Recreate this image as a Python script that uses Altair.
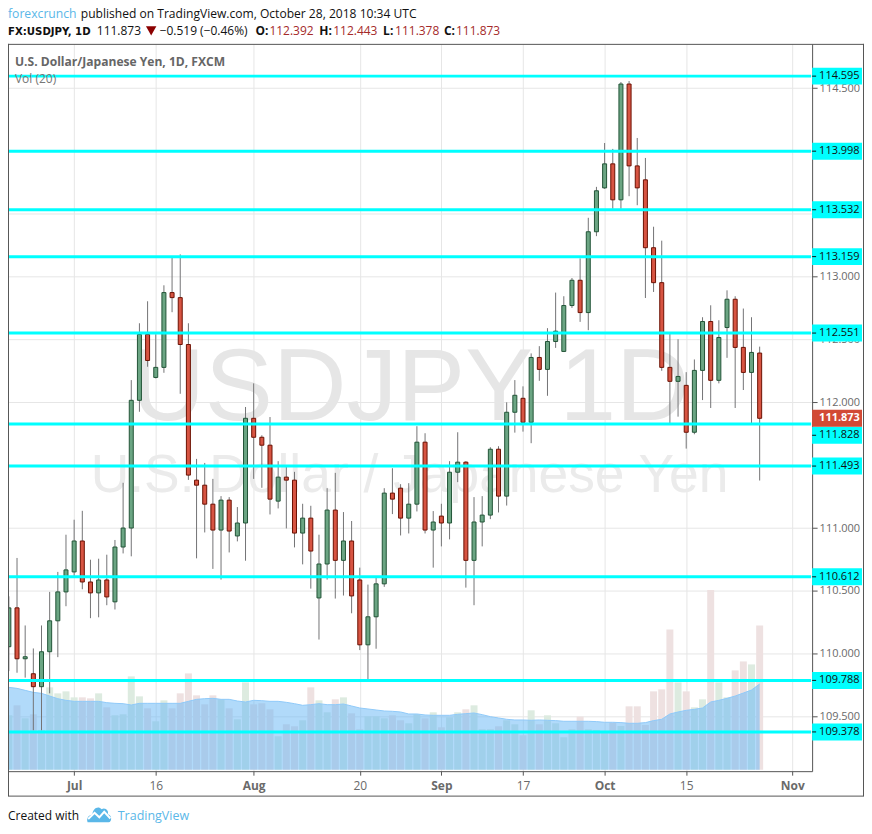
import altair as alt
import pandas as pd

opens = [110.056,110.365,109.960,109.841,109.738,110.016,110.262,110.492,110.651,110.897,110.571,110.484,110.587,110.413,110.849,111.000,112.016,112.540,112.198,112.278,112.873,112.833,112.460,111.381,111.341,111.190,110.984,111.222,110.937,111.040,111.873,111.722,111.659,111.214,111.405,111.381,110.960,111.079,110.444,110.714,111.143,110.743,110.897,110.587,110.071,110.294,110.556,111.278,111.317,111.079,111.190,111.683,110.984,111.095,111.040,111.444,111.524,110.743,111.048,111.103,111.627,111.254,111.921,112.032,111.841,112.357,112.262,112.484,112.405,112.770,112.971,112.714,113.357,113.706,113.897,113.611,114.532,113.881,113.770,113.230,112.952,112.278,112.167,112.135,111.762,112.254,112.643,112.175,112.595,112.820,112.437,112.238,112.392]
closes = [110.365,109.960,109.976,109.738,110.016,110.262,110.492,110.667,110.897,110.571,110.484,110.587,110.452,110.849,111.000,112.016,112.540,112.333,112.278,112.873,112.833,112.460,111.421,111.341,111.190,110.984,111.222,110.976,111.040,111.873,111.722,111.659,111.230,111.405,111.381,110.960,111.079,110.817,110.714,111.143,110.743,110.897,110.460,110.071,110.294,110.556,111.278,111.230,111.079,111.190,111.683,110.984,111.048,111.040,111.444,111.524,110.743,111.048,111.103,111.627,111.254,111.921,112.056,111.841,112.357,112.262,112.484,112.566,112.770,112.971,112.714,113.357,113.683,113.897,113.611,114.532,113.881,113.706,113.230,112.952,112.278,112.167,112.206,111.762,112.254,112.643,112.175,112.516,112.820,112.437,112.238,112.397,111.873]
highs = [110.457,110.762,110.225,110.042,110.225,110.492,110.651,110.947,111.066,111.137,110.748,110.756,110.788,110.905,111.360,112.177,112.629,112.804,112.542,112.931,113.156,113.177,112.629,111.550,111.518,111.391,111.254,111.246,111.167,111.963,112.151,111.738,111.883,111.532,111.487,111.447,111.193,111.177,110.947,111.317,111.439,111.127,111.056,110.685,110.550,110.606,111.317,111.476,111.349,111.357,111.810,111.754,111.135,111.193,111.532,111.762,111.532,111.246,111.254,111.643,111.651,112.000,112.177,112.127,112.389,112.447,112.590,112.873,112.844,112.989,113.145,113.468,113.714,114.063,114.016,114.548,114.556,114.103,113.944,113.397,113.286,112.558,112.502,112.240,112.341,112.677,112.772,112.653,112.891,112.844,112.746,112.677,112.443]
lows = [109.862,109.849,109.810,109.391,109.391,109.685,109.973,110.378,110.606,110.513,110.283,110.290,110.386,110.352,110.798,110.775,111.925,112.283,112.190,112.235,112.717,112.068,111.383,110.759,110.965,110.675,110.590,110.806,110.894,110.740,111.391,111.320,111.108,111.156,110.997,110.846,110.711,110.518,110.113,110.590,110.439,110.463,110.322,110.029,109.796,110.040,110.532,111.111,110.941,110.957,111.132,110.957,110.685,110.854,110.910,111.365,110.526,110.386,110.854,111.071,111.124,111.179,111.759,111.767,111.675,112.171,112.052,112.433,112.400,112.751,112.640,112.574,113.322,113.698,113.540,113.540,113.640,113.568,112.830,112.878,112.251,111.833,111.886,111.632,111.746,112.018,111.955,112.151,112.354,111.955,112.098,111.833,111.378]
volumes = [164,194,155,167,120,248,230,236,218,218,215,230,188,164,167,281,221,185,146,209,185,230,290,224,197,224,212,185,152,263,197,200,182,101,137,131,149,248,209,173,212,218,170,122,161,161,155,164,149,140,167,155,173,128,158,173,182,194,122,122,131,149,137,104,179,137,164,140,98,122,160,122,120,117,142,132,191,191,135,236,242,422,263,236,188,212,541,263,218,299,326,317,434]
vol_ma = [248,245,239,233,230,222,214,209,206,206,206,206,202,200,199,195,200,200,200,200,200,200,206,212,214,215,212,212,207,204,209,208,206,206,203,199,194,196,199,196,196,198,192,186,183,180,177,176,174,168,168,165,164,164,164,167,169,171,166,160,156,152,150,150,149,150,149,148,146,146,146,146,145,143,143,142,140,140,142,148,152,168,174,179,182,186,204,209,215,222,231,240,258]
day_index = list(range(-8, 85))

levels = [114.595,113.998,113.532,113.159,112.551,111.828,111.493,110.612,109.788,109.378]
level_label_at = [114.595,113.998,113.532,113.159,112.551,111.738,111.493,110.612,109.788,109.378]
level_text = ["114.595","113.998","113.532","113.159","112.551","111.828","111.493","110.612","109.788","109.378"]
last_price = 111.873

y_ticks = [109.5,110.0,110.5,111.0,111.5,112.0,112.5,113.0,113.5,114.0,114.5]
x_ticks = [0,10,22,35,45,55,65,75,88]
x_tick_labels = ["Jul","16","Aug","20","Sep","17","Oct","15","Nov"]
month_ticks = [0,22,45,65,88]

FONT = "Open Sans"
OX, OY = 8, 43
W, H = 806, 729
PRICE_DOM = [109.0659, 114.8516]
VOL_DOM = [-4, 2183]
X_DOM = [-8.105, 90.428]
GRID = "#e6e6e6"
FRAME = "#555555"
AXT = "#6a6a6a"
BLUE = "#5ab7e8"
DRED = "#a52a2a"
CYAN = "#00ffff"

df = pd.DataFrame(dict(i=day_index, open=opens, close=closes, high=highs, low=lows, vol=volumes, ma=vol_ma))
ONE = alt.Data(values=[{"a": 1}])
up = "datum.close > datum.open"

px = alt.Scale(domain=PRICE_DOM, range=[H, 0], nice=False, zero=False)
vs = alt.Scale(domain=VOL_DOM, range=[H, 0], nice=False, zero=False)
xs = alt.Scale(domain=X_DOM, nice=False, zero=False, padding=0)
xe = alt.X("i:Q", scale=xs, axis=None)

labmap = "{" + ",".join(f"'{v}':'{t}'" for v, t in zip(x_ticks, x_tick_labels)) + "}"
xaxis = alt.Axis(values=x_ticks, labelExpr=f"{labmap}[datum.value]", title=None, grid=True, gridColor=GRID,
                 domainColor=FRAME, tickColor=FRAME, tickSize=4, labelColor=AXT, labelFont=FONT, labelFontSize=12,
                 labelPadding=5, labelFlush=False, labelOverlap=False,
                 labelFontWeight=alt.expr(f"indexof({month_ticks}, datum.value) >= 0 ? 'bold' : 'normal'"))
yaxis = alt.Axis(values=y_ticks, orient="right", format=".3f", title=None, grid=True, gridColor=GRID,
                 domainColor=FRAME, tickColor=FRAME, tickSize=5, labelColor=AXT, labelFont=FONT, labelFontSize=11,
                 labelPadding=2, labelOverlap=False)


def txt(s, x, y, size=12, color="#111111", weight="normal", align="left", font=FONT):
    return alt.Chart(ONE).mark_text(text=s, align=align, baseline="alphabetic", font=font, fontSize=size,
                                    color=color, fontWeight=weight).encode(x=alt.value(x - OX), y=alt.value(y - OY))


def hline(x1, x2, y, color=FRAME):
    return alt.Chart(ONE).mark_rule(color=color, strokeWidth=1).encode(
        x=alt.value(x1 - OX), x2=alt.value(x2 - OX), y=alt.value(y - OY))


def vline(x, y1, y2, color=FRAME):
    return alt.Chart(ONE).mark_rule(color=color, strokeWidth=1).encode(
        x=alt.value(x - OX), y=alt.value(y1 - OY), y2=alt.value(y2 - OY))


base = alt.Chart(df)
layers = [
    txt("USDJPY 1D", 411.5, 420, size=102, color="#e6e6e6", align="center", font="Liberation Sans"),
    txt("U.S. Dollar / Japanese Yen", 410.5, 492, size=53.5, color="#ebebeb", align="center", font="Liberation Sans"),
    base.mark_bar(size=7, clip=True).encode(
        x=xe, y=alt.Y("vol:Q", scale=vs, axis=None),
        color=alt.condition(up, alt.value("#ddebe0"), alt.value("#eee1e1"))),
    base.mark_area(clip=True, color="#64b5f6", opacity=0.5, line={"color": "#90caf9", "strokeWidth": 1, "opacity": 1}).encode(
        x=xe, y=alt.Y("ma:Q", scale=vs, axis=None)),
    base.mark_rule(color="#737375", strokeWidth=1, clip=True).encode(
        x=alt.X("i:Q", scale=xs, axis=xaxis),
        y=alt.Y("high:Q", scale=px, axis=yaxis), y2="low:Q"),
    base.mark_bar(size=4, strokeWidth=1, clip=True).encode(
        x=xe, y=alt.Y("open:Q", scale=px, axis=None), y2="close:Q",
        color=alt.condition(up, alt.value("#6ba583"), alt.value("#d75442")),
        stroke=alt.condition(up, alt.value("#225437"), alt.value("#6b1103"))),
]

lev = alt.Chart(pd.DataFrame(dict(p=levels, at=level_label_at, t=level_text)))
layers += [
    lev.mark_rule(color=CYAN, strokeWidth=3).encode(
        x=alt.value(0), x2=alt.value(813 - OX), y=alt.Y("p:Q", scale=px, axis=None)),
    lev.mark_rule(color=CYAN, strokeWidth=17).encode(
        x=alt.value(814 - OX), x2=alt.value(864 - OX), y=alt.Y("at:Q", scale=px, axis=None)),
    lev.mark_rule(color="#111111", strokeWidth=1).encode(
        x=alt.value(814 - OX), x2=alt.value(818 - OX), y=alt.Y("at:Q", scale=px, axis=None)),
    lev.mark_text(align="left", baseline="middle", font=FONT, fontSize=11, color="#111111").encode(
        x=alt.value(821 - OX), y=alt.Y("at:Q", scale=px, axis=None), text="t:N"),
]
lastp = alt.Chart(pd.DataFrame(dict(p=[last_price], t=[f"{last_price:.3f}"])))
layers += [
    lastp.mark_rule(color="#d24a35", strokeWidth=17).encode(
        x=alt.value(814 - OX), x2=alt.value(864 - OX), y=alt.Y("p:Q", scale=px, axis=None)),
    lastp.mark_text(align="left", baseline="middle", font=FONT, fontSize=11, fontWeight="bold", color="white").encode(
        x=alt.value(821 - OX), y=alt.Y("p:Q", scale=px, axis=None), text="t:N"),
]

layers += [
    vline(8.5, 43, 797), vline(865.5, 43, 797), hline(8, 866, 43.5), hline(8, 866, 797),
    txt("U.S. Dollar/Japanese Yen, 1D, FXCM", 15, 65, size=12.1, color="#666666", weight="bold"),
    txt("Vol (20)", 15, 82, size=12, color="#777777"),
    txt("forexcrunch", 8, 17, size=12.2, color=BLUE),
    txt("published on TradingView.com, October 28, 2018 10:34 UTC", 81, 17, size=12.1),
    txt("FX:USDJPY, 1D", 8, 34, size=10.2, weight="bold", font="DejaVu Sans"),
    txt("111.873", 97, 34, size=12),
    alt.Chart(ONE).mark_point(shape="triangle-down", filled=True, color="#8b0000", opacity=1, size=110).encode(
        x=alt.value(151.5 - OX), y=alt.value(30 - OY)),
    txt("\u22120.519 (\u22120.46%)", 160, 34, size=12),
    txt("O:", 256, 34, size=12, weight="bold"),
    txt("112.392", 270, 34, size=12, color=DRED),
    txt("H:", 320, 34, size=12, weight="bold"),
    txt("112.443", 334, 34, size=12, color=DRED),
    txt("L:", 384, 34, size=12, weight="bold"),
    txt("111.378", 396, 34, size=12, color=DRED),
    txt("C:", 445, 34, size=12, weight="bold"),
    txt("111.873", 457, 34, size=12, color=DRED),
    txt("Created with", 8, 821, size=12),
    txt("TradingView", 118, 821, size=12.5, color=BLUE),
    alt.Chart(ONE).mark_point(
        shape="M-1,0.7 C-1.15,0.25 -0.8,0.05 -0.6,0.05 C-0.55,-0.5 -0.1,-0.75 0.2,-0.42 C0.55,-0.6 0.85,-0.25 0.72,0.02 C1.1,0.05 1.1,0.7 0.8,0.7 Z",
        filled=True, color=BLUE, opacity=1, size=550, strokeWidth=0).encode(
        x=alt.value(99.5 - OX), y=alt.value(815 - OY)),
    alt.Chart(ONE).mark_point(
        shape="M-0.95,0.42 L-0.4,-0.1 L0,0.28 L0.42,-0.2 L0.95,0.38",
        filled=False, color="white", opacity=1, size=550, strokeWidth=2).encode(
        x=alt.value(99.5 - OX), y=alt.value(815 - OY)),
]

chart = alt.layer(*layers).resolve_scale(y="independent").resolve_axis(x="independent").properties(
    width=W, height=H,
    padding={"left": 0, "top": OY - 8, "right": 52, "bottom": 52},
    autosize=alt.AutoSizeParams(type="none"),
    background="white",
).configure_view(stroke=None)

chart.save("out.html", embed_options={"renderer": "svg", "actions": False})
